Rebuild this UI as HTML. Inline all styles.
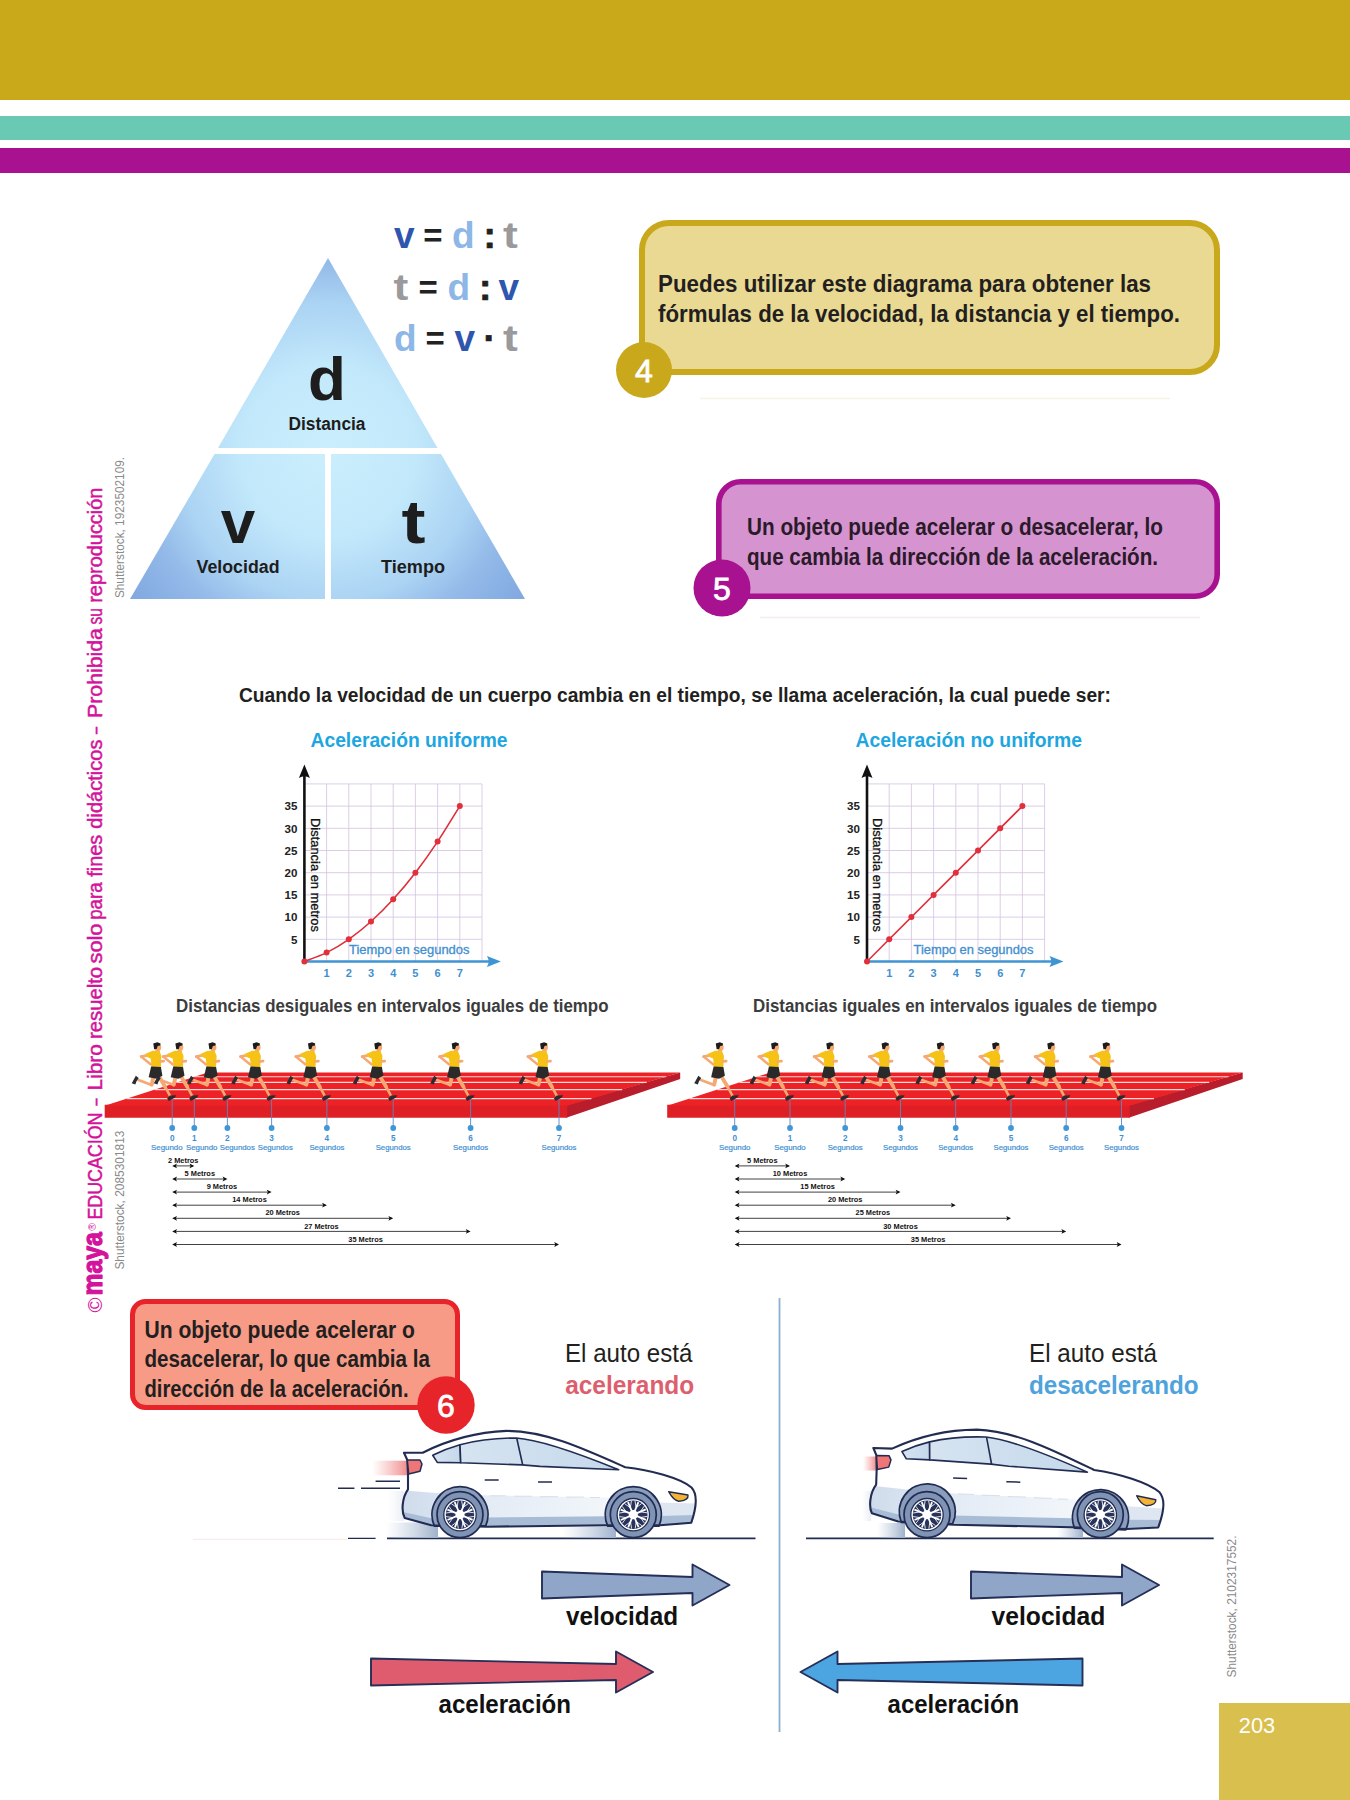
<!DOCTYPE html>
<html lang="es">
<head>
<meta charset="utf-8">
<title>Aceleración - página 203</title>
<style>
html,body{margin:0;padding:0;background:#fff;}
body{width:1350px;height:1800px;overflow:hidden;font-family:"Liberation Sans",sans-serif;}
svg{display:block;position:absolute;left:0;top:0;}
text{font-family:"Liberation Sans",sans-serif;}
.b{font-weight:bold;}
</style>
</head>
<body>
<svg width="1350" height="1800" viewBox="0 0 1350 1800">
<!-- 10_header.svg -->
<rect x="0" y="0" width="1350" height="100" fill="#C9A819"/>
<rect x="0" y="116" width="1350" height="24" fill="#69C9B3"/>
<rect x="0" y="148" width="1350" height="25" fill="#A8118F"/>

<!-- 20_triangle.svg -->
<defs>
<radialGradient id="triG" gradientUnits="userSpaceOnUse" cx="328" cy="452" r="250">
<stop offset="0" stop-color="#CAEEFC"/>
<stop offset="0.35" stop-color="#C2E8FB"/>
<stop offset="0.6" stop-color="#ABD3F3"/>
<stop offset="0.77" stop-color="#92B9E8"/>
<stop offset="1" stop-color="#80A7DF"/>
</radialGradient>
</defs>
<polygon points="328,258 437.5,448 218,448" fill="url(#triG)"/>
<polygon points="214.5,454 325,454 325,599 130,599" fill="url(#triG)"/>
<polygon points="331,454 441,454 525,599 331,599" fill="url(#triG)"/>
<text class="b" x="327" y="400" font-size="62" text-anchor="middle" fill="#1d1d1d">d</text>
<text class="b" x="327" y="429.6" font-size="18" text-anchor="middle" fill="#1d1d1d" textLength="77" lengthAdjust="spacingAndGlyphs">Distancia</text>
<text class="b" x="238" y="543" font-size="62" text-anchor="middle" fill="#1d1d1d">v</text>
<text class="b" x="238" y="573.2" font-size="18" text-anchor="middle" fill="#1d1d1d" textLength="83" lengthAdjust="spacingAndGlyphs">Velocidad</text>
<text class="b" x="401.5" y="543" font-size="62" fill="#1d1d1d" textLength="24" lengthAdjust="spacingAndGlyphs">t</text>
<text class="b" x="413" y="573.2" font-size="18" text-anchor="middle" fill="#1d1d1d" textLength="64" lengthAdjust="spacingAndGlyphs">Tiempo</text>
<g class="b" font-size="37">
<text x="394" y="247.5" fill="#2F56AE">v</text>
<text x="423.2" y="246.6" font-size="33" fill="#222">=</text>
<text x="452" y="247.5" fill="#8CB7E6">d</text>
<text x="483.5" y="247.5" fill="#222" stroke="#222" stroke-width="0.7" stroke-linejoin="round">:</text>
<text x="503" y="247.5" fill="#9A9A9C" textLength="14.8" lengthAdjust="spacingAndGlyphs">t</text>
<text x="393.5" y="300" fill="#9A9A9C" textLength="14.8" lengthAdjust="spacingAndGlyphs">t</text>
<text x="418.5" y="299.1" font-size="33" fill="#222">=</text>
<text x="447.5" y="300" fill="#8CB7E6">d</text>
<text x="479" y="300" fill="#222" stroke="#222" stroke-width="0.7" stroke-linejoin="round">:</text>
<text x="498.5" y="300" fill="#2F56AE">v</text>
<text x="394" y="351" fill="#8CB7E6">d</text>
<text x="425.6" y="350.1" font-size="33" fill="#222">=</text>
<text x="454.5" y="351" fill="#2F56AE">v</text>
<text x="483.5" y="351" fill="#222" stroke="#222" stroke-width="0.7" stroke-linejoin="round">·</text>
<text x="503" y="351" fill="#9A9A9C" textLength="14.8" lengthAdjust="spacingAndGlyphs">t</text>
</g>

<!-- 30_callouts.svg -->
<path d="M700,398.5H1170" stroke="#F6F2E4" stroke-width="1.6"/>
<rect x="642" y="223" width="575" height="149" rx="27" ry="27" fill="#EAD993" stroke="#C9A81C" stroke-width="6"/>
<circle cx="644" cy="370" r="28" fill="#C9A81C"/>
<text x="644" y="381.5" font-size="32" text-anchor="middle" fill="#fff" stroke="#fff" stroke-width="0.8">4</text>
<text class="b" x="658" y="292" font-size="24" fill="#231F20" textLength="493" lengthAdjust="spacingAndGlyphs">Puedes utilizar este diagrama para obtener las</text>
<text class="b" x="658" y="322" font-size="24" fill="#231F20" textLength="522" lengthAdjust="spacingAndGlyphs">fórmulas de la velocidad, la distancia y el tiempo.</text>
<path d="M760,617.5H1200" stroke="#F6EAF4" stroke-width="1.6"/>
<rect x="718.8" y="481.8" width="498.4" height="114.4" rx="22" ry="22" fill="#D594CF" stroke="#A8118F" stroke-width="5.6"/>
<circle cx="722" cy="588" r="28.5" fill="#A8118F"/>
<text x="722" y="599.5" font-size="32" text-anchor="middle" fill="#fff" stroke="#fff" stroke-width="0.8">5</text>
<text class="b" x="747" y="534.7" font-size="24.5" fill="#2A1A2A" textLength="416" lengthAdjust="spacingAndGlyphs">Un objeto puede acelerar o desacelerar, lo</text>
<text class="b" x="747" y="564.5" font-size="24.5" fill="#2A1A2A" textLength="411" lengthAdjust="spacingAndGlyphs">que cambia la dirección de la aceleración.</text>

<!-- 40_charts.svg -->
<text class="b" x="239" y="702" font-size="20" fill="#231F20" textLength="872" lengthAdjust="spacingAndGlyphs">Cuando la velocidad de un cuerpo cambia en el tiempo, se llama aceleración, la cual puede ser:</text>
<text class="b" x="310.5" y="747" font-size="20" fill="#1DA6DF" textLength="197" lengthAdjust="spacingAndGlyphs">Aceleración uniforme</text>
<text class="b" x="855.5" y="747" font-size="20" fill="#1DA6DF" textLength="226.5" lengthAdjust="spacingAndGlyphs">Aceleración no uniforme</text>
<text class="b" x="176" y="1011.8" font-size="17.5" fill="#3C3C3C" textLength="432.5" lengthAdjust="spacingAndGlyphs">Distancias desiguales en intervalos iguales de tiempo</text>
<text class="b" x="753" y="1011.8" font-size="17.5" fill="#3C3C3C" textLength="404" lengthAdjust="spacingAndGlyphs">Distancias iguales en intervalos iguales de tiempo</text>
<g>
<path d="M326.6,783.9V961.5M304.4,939.3H482.0M348.8,783.9V961.5M304.4,917.1H482.0M371.0,783.9V961.5M304.4,894.9H482.0M393.2,783.9V961.5M304.4,872.7H482.0M415.4,783.9V961.5M304.4,850.5H482.0M437.6,783.9V961.5M304.4,828.3H482.0M459.8,783.9V961.5M304.4,806.1H482.0M482.0,783.9V961.5M304.4,783.9H482.0" fill="none" stroke="#D6C4E3" stroke-width="0.85"/>
<path d="M304.4,961.5V772" stroke="#111" stroke-width="2.6" fill="none"/>
<path d="M304.4,764.5l-5.5,13.5q5.5,-3.5 11,0z" fill="#111"/>
<path d="M304.4,961.5H492.4" stroke="#3F94D3" stroke-width="2.4" fill="none"/>
<path d="M500.9,961.5l-14,-5.5q3.5,5.5 0,11z" fill="#3F94D3"/>
<text class="b" x="297.4" y="943.5" font-size="11.6" text-anchor="end" fill="#222">5</text>
<text class="b" x="297.4" y="921.3" font-size="11.6" text-anchor="end" fill="#222">10</text>
<text class="b" x="297.4" y="899.1" font-size="11.6" text-anchor="end" fill="#222">15</text>
<text class="b" x="297.4" y="876.9" font-size="11.6" text-anchor="end" fill="#222">20</text>
<text class="b" x="297.4" y="854.7" font-size="11.6" text-anchor="end" fill="#222">25</text>
<text class="b" x="297.4" y="832.5" font-size="11.6" text-anchor="end" fill="#222">30</text>
<text class="b" x="297.4" y="810.3" font-size="11.6" text-anchor="end" fill="#222">35</text>
<text class="b" x="326.6" y="976.7" font-size="11" text-anchor="middle" fill="#3F8FD0">1</text>
<text class="b" x="348.8" y="976.7" font-size="11" text-anchor="middle" fill="#3F8FD0">2</text>
<text class="b" x="371.0" y="976.7" font-size="11" text-anchor="middle" fill="#3F8FD0">3</text>
<text class="b" x="393.2" y="976.7" font-size="11" text-anchor="middle" fill="#3F8FD0">4</text>
<text class="b" x="415.4" y="976.7" font-size="11" text-anchor="middle" fill="#3F8FD0">5</text>
<text class="b" x="437.6" y="976.7" font-size="11" text-anchor="middle" fill="#3F8FD0">6</text>
<text class="b" x="459.8" y="976.7" font-size="11" text-anchor="middle" fill="#3F8FD0">7</text>
<text x="349" y="953.5" font-size="12.5" fill="#3F8FD0" textLength="120.5" lengthAdjust="spacingAndGlyphs" stroke="#3F8FD0" stroke-width="0.3">Tiempo en segundos</text>
<text transform="translate(310.7,818) rotate(90)" x="0" y="0" font-size="12.5" fill="#111" textLength="114" lengthAdjust="spacingAndGlyphs" stroke="#111" stroke-width="0.3">Distancia en metros</text>
<path d="M304.4,961.5C308.1,960.0 319.2,956.3 326.6,952.6C334.0,948.9 341.4,944.5 348.8,939.3C356.2,934.1 363.6,928.2 371.0,921.5C378.4,914.9 385.8,907.5 393.2,899.3C400.6,891.2 408.0,882.3 415.4,872.7C422.8,863.1 430.2,852.7 437.6,841.6C445.0,830.5 456.1,812.0 459.8,806.1" fill="none" stroke="#DE2F3A" stroke-width="1.6"/>
<circle cx="304.4" cy="961.5" r="3" fill="#E0303B"/>
<circle cx="326.6" cy="952.6" r="3" fill="#E0303B"/>
<circle cx="348.8" cy="939.3" r="3" fill="#E0303B"/>
<circle cx="371.0" cy="921.5" r="3" fill="#E0303B"/>
<circle cx="393.2" cy="899.3" r="3" fill="#E0303B"/>
<circle cx="415.4" cy="872.7" r="3" fill="#E0303B"/>
<circle cx="437.6" cy="841.6" r="3" fill="#E0303B"/>
<circle cx="459.8" cy="806.1" r="3" fill="#E0303B"/>
</g>
<g>
<path d="M889.2,783.9V961.5M867.0,939.3H1044.6M911.4,783.9V961.5M867.0,917.1H1044.6M933.6,783.9V961.5M867.0,894.9H1044.6M955.8,783.9V961.5M867.0,872.7H1044.6M978.0,783.9V961.5M867.0,850.5H1044.6M1000.2,783.9V961.5M867.0,828.3H1044.6M1022.4,783.9V961.5M867.0,806.1H1044.6M1044.6,783.9V961.5M867.0,783.9H1044.6" fill="none" stroke="#D6C4E3" stroke-width="0.85"/>
<path d="M867.0,961.5V772" stroke="#111" stroke-width="2.6" fill="none"/>
<path d="M867.0,764.5l-5.5,13.5q5.5,-3.5 11,0z" fill="#111"/>
<path d="M867.0,961.5H1055.0" stroke="#3F94D3" stroke-width="2.4" fill="none"/>
<path d="M1063.5,961.5l-14,-5.5q3.5,5.5 0,11z" fill="#3F94D3"/>
<text class="b" x="860.0" y="943.5" font-size="11.6" text-anchor="end" fill="#222">5</text>
<text class="b" x="860.0" y="921.3" font-size="11.6" text-anchor="end" fill="#222">10</text>
<text class="b" x="860.0" y="899.1" font-size="11.6" text-anchor="end" fill="#222">15</text>
<text class="b" x="860.0" y="876.9" font-size="11.6" text-anchor="end" fill="#222">20</text>
<text class="b" x="860.0" y="854.7" font-size="11.6" text-anchor="end" fill="#222">25</text>
<text class="b" x="860.0" y="832.5" font-size="11.6" text-anchor="end" fill="#222">30</text>
<text class="b" x="860.0" y="810.3" font-size="11.6" text-anchor="end" fill="#222">35</text>
<text class="b" x="889.2" y="976.7" font-size="11" text-anchor="middle" fill="#3F8FD0">1</text>
<text class="b" x="911.4" y="976.7" font-size="11" text-anchor="middle" fill="#3F8FD0">2</text>
<text class="b" x="933.6" y="976.7" font-size="11" text-anchor="middle" fill="#3F8FD0">3</text>
<text class="b" x="955.8" y="976.7" font-size="11" text-anchor="middle" fill="#3F8FD0">4</text>
<text class="b" x="978.0" y="976.7" font-size="11" text-anchor="middle" fill="#3F8FD0">5</text>
<text class="b" x="1000.2" y="976.7" font-size="11" text-anchor="middle" fill="#3F8FD0">6</text>
<text class="b" x="1022.4" y="976.7" font-size="11" text-anchor="middle" fill="#3F8FD0">7</text>
<text x="913.5" y="953.5" font-size="12.5" fill="#3F8FD0" textLength="120.0" lengthAdjust="spacingAndGlyphs" stroke="#3F8FD0" stroke-width="0.3">Tiempo en segundos</text>
<text transform="translate(873.3,818) rotate(90)" x="0" y="0" font-size="12.5" fill="#111" textLength="114" lengthAdjust="spacingAndGlyphs" stroke="#111" stroke-width="0.3">Distancia en metros</text>
<path d="M867.0,961.5L1022.4,806.1" fill="none" stroke="#DE2F3A" stroke-width="1.6"/>
<circle cx="867.0" cy="961.5" r="3" fill="#E0303B"/>
<circle cx="889.2" cy="939.3" r="3" fill="#E0303B"/>
<circle cx="911.4" cy="917.1" r="3" fill="#E0303B"/>
<circle cx="933.6" cy="894.9" r="3" fill="#E0303B"/>
<circle cx="955.8" cy="872.7" r="3" fill="#E0303B"/>
<circle cx="978.0" cy="850.5" r="3" fill="#E0303B"/>
<circle cx="1000.2" cy="828.3" r="3" fill="#E0303B"/>
<circle cx="1022.4" cy="806.1" r="3" fill="#E0303B"/>
</g>

<!-- 50_tracks.svg -->
<symbol id="runner" overflow="visible">
<path d="M-24.89,-44.89 L-31.02,-43.56" fill="none" stroke="#F6A873" stroke-width="2.9" stroke-linecap="round"/>
<path d="M-31.02,-43.56 L-21.33,-35.73" fill="none" stroke="#F6A873" stroke-width="2.5" stroke-linecap="round"/>
<path d="M-18.93,-22.67 L-20.53,-15.56" fill="none" stroke="#F6A873" stroke-width="3.9" stroke-linecap="round"/>
<path d="M-20.53,-15.29 L-33.78,-20.27" fill="none" stroke="#F6A873" stroke-width="2.7" stroke-linecap="round"/>
<polygon points="-40.44,-16.89 -36.36,-24.36 -33.51,-22.22 -35.64,-18.84 -36.89,-15.64" fill="#2B2B33"/>
<path d="M-12.89,-23.11 L-7.11,-13.51" fill="none" stroke="#F6A873" stroke-width="3.8" stroke-linecap="round"/>
<path d="M-7.11,-13.51 L-1.78,-3.56" fill="none" stroke="#F6A873" stroke-width="2.6" stroke-linecap="round"/>
<polygon points="-5.07,-1.60 -2.22,-4.80 4.18,-4.98 2.58,-2.49 -3.47,0.89" fill="#2B2B33"/>
<polygon points="-16.62,-51.11 -12.89,-51.11 -12.53,-48.00 -16.80,-48.00" fill="#F6A873"/>
<polygon points="-27.11,-46.22 -19.56,-49.42 -12.71,-49.24 -10.76,-44.27 -11.38,-32.89 -20.53,-33.24 -21.60,-41.60 -24.62,-43.02" fill="#F5C215"/>
<polygon points="-21.07,-33.60 -11.29,-33.24 -9.78,-24.53 -15.73,-21.33 -23.56,-22.93" fill="#2A2A2A"/>
<path d="M-12.00,-38.76 L-8.44,-39.11" fill="none" stroke="#F6A873" stroke-width="2.6" stroke-linecap="round"/>
<ellipse cx="-14.04" cy="-52.89" rx="3.02" ry="3.73" fill="#F6A873"/>
<polygon points="-18.93,-56.71 -14.84,-57.96 -11.64,-56.71 -12.00,-54.58 -14.49,-54.22 -15.56,-51.20 -18.04,-51.02" fill="#1C1C1C"/>
</symbol>
<polygon points="566.2,1105.2 680.2,1072.6 680.2,1079.1 566.2,1117.8" fill="#B91C2B"/>
<polygon points="104.7,1104.7 567.2,1104.7 567.2,1117.8 104.7,1117.8" fill="#DF1F26"/>
<polygon points="207.7,1072.6 680.2,1072.6 567.2,1105.7 104.7,1105.7" fill="#EC2227"/>
<path d="M194.6,1076.8H665.9" stroke="#FBD9D5" stroke-width="1.1"/>
<path d="M177.2,1082.4H646.7" stroke="#FBD9D5" stroke-width="1.1"/>
<path d="M154.8,1089.6H622.2" stroke="#FBD9D5" stroke-width="1.1"/>
<path d="M126.8,1098.6H591.4" stroke="#FBD9D5" stroke-width="1.1"/>
<path d="M172.2,1100V1128" stroke="#5E86C0" stroke-width="0.9"/>
<circle cx="172.2" cy="1128" r="2.9" fill="#3F97D8"/>
<path d="M194.3,1100V1128" stroke="#5E86C0" stroke-width="0.9"/>
<circle cx="194.3" cy="1128" r="2.9" fill="#3F97D8"/>
<path d="M227.4,1100V1128" stroke="#5E86C0" stroke-width="0.9"/>
<circle cx="227.4" cy="1128" r="2.9" fill="#3F97D8"/>
<path d="M271.6,1100V1128" stroke="#5E86C0" stroke-width="0.9"/>
<circle cx="271.6" cy="1128" r="2.9" fill="#3F97D8"/>
<path d="M326.9,1100V1128" stroke="#5E86C0" stroke-width="0.9"/>
<circle cx="326.9" cy="1128" r="2.9" fill="#3F97D8"/>
<path d="M393.2,1100V1128" stroke="#5E86C0" stroke-width="0.9"/>
<circle cx="393.2" cy="1128" r="2.9" fill="#3F97D8"/>
<path d="M470.6,1100V1128" stroke="#5E86C0" stroke-width="0.9"/>
<circle cx="470.6" cy="1128" r="2.9" fill="#3F97D8"/>
<path d="M559.0,1100V1128" stroke="#5E86C0" stroke-width="0.9"/>
<circle cx="559.0" cy="1128" r="2.9" fill="#3F97D8"/>
<use href="#runner" x="172.2" y="1100.2"/>
<use href="#runner" x="194.3" y="1100.2"/>
<use href="#runner" x="227.4" y="1100.2"/>
<use href="#runner" x="271.6" y="1100.2"/>
<use href="#runner" x="326.9" y="1100.2"/>
<use href="#runner" x="393.2" y="1100.2"/>
<use href="#runner" x="470.6" y="1100.2"/>
<use href="#runner" x="559.0" y="1100.2"/>
<text class="b" x="172.2" y="1141.2" font-size="8.2" text-anchor="middle" fill="#3F8FD0">0</text>
<text x="151.1" y="1149.8" font-size="7.6" fill="#3F8FD0" textLength="31.5" lengthAdjust="spacingAndGlyphs" stroke="#3F8FD0" stroke-width="0.2">Segundo</text>
<text class="b" x="194.3" y="1141.2" font-size="8.2" text-anchor="middle" fill="#3F8FD0">1</text>
<text x="186.0" y="1149.8" font-size="7.6" fill="#3F8FD0" textLength="31.5" lengthAdjust="spacingAndGlyphs" stroke="#3F8FD0" stroke-width="0.2">Segundo</text>
<text class="b" x="227.4" y="1141.2" font-size="8.2" text-anchor="middle" fill="#3F8FD0">2</text>
<text x="219.8" y="1149.8" font-size="7.6" fill="#3F8FD0" textLength="35" lengthAdjust="spacingAndGlyphs" stroke="#3F8FD0" stroke-width="0.2">Segundos</text>
<text class="b" x="271.6" y="1141.2" font-size="8.2" text-anchor="middle" fill="#3F8FD0">3</text>
<text x="257.8" y="1149.8" font-size="7.6" fill="#3F8FD0" textLength="35" lengthAdjust="spacingAndGlyphs" stroke="#3F8FD0" stroke-width="0.2">Segundos</text>
<text class="b" x="326.9" y="1141.2" font-size="8.2" text-anchor="middle" fill="#3F8FD0">4</text>
<text x="309.4" y="1149.8" font-size="7.6" fill="#3F8FD0" textLength="35" lengthAdjust="spacingAndGlyphs" stroke="#3F8FD0" stroke-width="0.2">Segundos</text>
<text class="b" x="393.2" y="1141.2" font-size="8.2" text-anchor="middle" fill="#3F8FD0">5</text>
<text x="375.7" y="1149.8" font-size="7.6" fill="#3F8FD0" textLength="35" lengthAdjust="spacingAndGlyphs" stroke="#3F8FD0" stroke-width="0.2">Segundos</text>
<text class="b" x="470.6" y="1141.2" font-size="8.2" text-anchor="middle" fill="#3F8FD0">6</text>
<text x="453.1" y="1149.8" font-size="7.6" fill="#3F8FD0" textLength="35" lengthAdjust="spacingAndGlyphs" stroke="#3F8FD0" stroke-width="0.2">Segundos</text>
<text class="b" x="559.0" y="1141.2" font-size="8.2" text-anchor="middle" fill="#3F8FD0">7</text>
<text x="541.5" y="1149.8" font-size="7.6" fill="#3F8FD0" textLength="35" lengthAdjust="spacingAndGlyphs" stroke="#3F8FD0" stroke-width="0.2">Segundos</text>
<path d="M173.7,1165.9H192.8" stroke="#111" stroke-width="0.8"/>
<path d="M172.2,1165.9l4.8,-2.4l-1.1,2.4l1.1,2.4zM194.3,1165.9l-4.8,-2.4l1.1,2.4l-1.1,2.4z" fill="#111"/>
<text class="b" x="183.2" y="1163.0" font-size="7.4" text-anchor="middle" fill="#111">2 Metros</text>
<path d="M173.7,1179.0H225.9" stroke="#111" stroke-width="0.8"/>
<path d="M172.2,1179.0l4.8,-2.4l-1.1,2.4l1.1,2.4zM227.4,1179.0l-4.8,-2.4l1.1,2.4l-1.1,2.4z" fill="#111"/>
<text class="b" x="199.8" y="1176.1" font-size="7.4" text-anchor="middle" fill="#111">5 Metros</text>
<path d="M173.7,1192.1H270.1" stroke="#111" stroke-width="0.8"/>
<path d="M172.2,1192.1l4.8,-2.4l-1.1,2.4l1.1,2.4zM271.6,1192.1l-4.8,-2.4l1.1,2.4l-1.1,2.4z" fill="#111"/>
<text class="b" x="221.9" y="1189.2" font-size="7.4" text-anchor="middle" fill="#111">9 Metros</text>
<path d="M173.7,1205.2H325.4" stroke="#111" stroke-width="0.8"/>
<path d="M172.2,1205.2l4.8,-2.4l-1.1,2.4l1.1,2.4zM326.9,1205.2l-4.8,-2.4l1.1,2.4l-1.1,2.4z" fill="#111"/>
<text class="b" x="249.5" y="1202.3" font-size="7.4" text-anchor="middle" fill="#111">14 Metros</text>
<path d="M173.7,1218.3H391.7" stroke="#111" stroke-width="0.8"/>
<path d="M172.2,1218.3l4.8,-2.4l-1.1,2.4l1.1,2.4zM393.2,1218.3l-4.8,-2.4l1.1,2.4l-1.1,2.4z" fill="#111"/>
<text class="b" x="282.7" y="1215.4" font-size="7.4" text-anchor="middle" fill="#111">20 Metros</text>
<path d="M173.7,1231.4H469.1" stroke="#111" stroke-width="0.8"/>
<path d="M172.2,1231.4l4.8,-2.4l-1.1,2.4l1.1,2.4zM470.6,1231.4l-4.8,-2.4l1.1,2.4l-1.1,2.4z" fill="#111"/>
<text class="b" x="321.4" y="1228.5" font-size="7.4" text-anchor="middle" fill="#111">27 Metros</text>
<path d="M173.7,1244.5H557.5" stroke="#111" stroke-width="0.8"/>
<path d="M172.2,1244.5l4.8,-2.4l-1.1,2.4l1.1,2.4zM559.0,1244.5l-4.8,-2.4l1.1,2.4l-1.1,2.4z" fill="#111"/>
<text class="b" x="365.6" y="1241.6" font-size="7.4" text-anchor="middle" fill="#111">35 Metros</text>
<polygon points="1128.7,1105.2 1242.7,1072.6 1242.7,1079.1 1128.7,1117.8" fill="#B91C2B"/>
<polygon points="667.2,1104.7 1129.7,1104.7 1129.7,1117.8 667.2,1117.8" fill="#DF1F26"/>
<polygon points="770.2,1072.6 1242.7,1072.6 1129.7,1105.7 667.2,1105.7" fill="#EC2227"/>
<path d="M757.1,1076.8H1228.4" stroke="#FBD9D5" stroke-width="1.1"/>
<path d="M739.7,1082.4H1209.2" stroke="#FBD9D5" stroke-width="1.1"/>
<path d="M717.3,1089.6H1184.7" stroke="#FBD9D5" stroke-width="1.1"/>
<path d="M689.3,1098.6H1153.9" stroke="#FBD9D5" stroke-width="1.1"/>
<path d="M734.7,1100V1128" stroke="#5E86C0" stroke-width="0.9"/>
<circle cx="734.7" cy="1128" r="2.9" fill="#3F97D8"/>
<path d="M790.0,1100V1128" stroke="#5E86C0" stroke-width="0.9"/>
<circle cx="790.0" cy="1128" r="2.9" fill="#3F97D8"/>
<path d="M845.2,1100V1128" stroke="#5E86C0" stroke-width="0.9"/>
<circle cx="845.2" cy="1128" r="2.9" fill="#3F97D8"/>
<path d="M900.5,1100V1128" stroke="#5E86C0" stroke-width="0.9"/>
<circle cx="900.5" cy="1128" r="2.9" fill="#3F97D8"/>
<path d="M955.7,1100V1128" stroke="#5E86C0" stroke-width="0.9"/>
<circle cx="955.7" cy="1128" r="2.9" fill="#3F97D8"/>
<path d="M1011.0,1100V1128" stroke="#5E86C0" stroke-width="0.9"/>
<circle cx="1011.0" cy="1128" r="2.9" fill="#3F97D8"/>
<path d="M1066.2,1100V1128" stroke="#5E86C0" stroke-width="0.9"/>
<circle cx="1066.2" cy="1128" r="2.9" fill="#3F97D8"/>
<path d="M1121.5,1100V1128" stroke="#5E86C0" stroke-width="0.9"/>
<circle cx="1121.5" cy="1128" r="2.9" fill="#3F97D8"/>
<use href="#runner" x="734.7" y="1100.2"/>
<use href="#runner" x="790.0" y="1100.2"/>
<use href="#runner" x="845.2" y="1100.2"/>
<use href="#runner" x="900.5" y="1100.2"/>
<use href="#runner" x="955.7" y="1100.2"/>
<use href="#runner" x="1011.0" y="1100.2"/>
<use href="#runner" x="1066.2" y="1100.2"/>
<use href="#runner" x="1121.5" y="1100.2"/>
<text class="b" x="734.7" y="1141.2" font-size="8.2" text-anchor="middle" fill="#3F8FD0">0</text>
<text x="719.0" y="1149.8" font-size="7.6" fill="#3F8FD0" textLength="31.5" lengthAdjust="spacingAndGlyphs" stroke="#3F8FD0" stroke-width="0.2">Segundo</text>
<text class="b" x="790.0" y="1141.2" font-size="8.2" text-anchor="middle" fill="#3F8FD0">1</text>
<text x="774.2" y="1149.8" font-size="7.6" fill="#3F8FD0" textLength="31.5" lengthAdjust="spacingAndGlyphs" stroke="#3F8FD0" stroke-width="0.2">Segundo</text>
<text class="b" x="845.2" y="1141.2" font-size="8.2" text-anchor="middle" fill="#3F8FD0">2</text>
<text x="827.7" y="1149.8" font-size="7.6" fill="#3F8FD0" textLength="35" lengthAdjust="spacingAndGlyphs" stroke="#3F8FD0" stroke-width="0.2">Segundos</text>
<text class="b" x="900.5" y="1141.2" font-size="8.2" text-anchor="middle" fill="#3F8FD0">3</text>
<text x="883.0" y="1149.8" font-size="7.6" fill="#3F8FD0" textLength="35" lengthAdjust="spacingAndGlyphs" stroke="#3F8FD0" stroke-width="0.2">Segundos</text>
<text class="b" x="955.7" y="1141.2" font-size="8.2" text-anchor="middle" fill="#3F8FD0">4</text>
<text x="938.2" y="1149.8" font-size="7.6" fill="#3F8FD0" textLength="35" lengthAdjust="spacingAndGlyphs" stroke="#3F8FD0" stroke-width="0.2">Segundos</text>
<text class="b" x="1011.0" y="1141.2" font-size="8.2" text-anchor="middle" fill="#3F8FD0">5</text>
<text x="993.5" y="1149.8" font-size="7.6" fill="#3F8FD0" textLength="35" lengthAdjust="spacingAndGlyphs" stroke="#3F8FD0" stroke-width="0.2">Segundos</text>
<text class="b" x="1066.2" y="1141.2" font-size="8.2" text-anchor="middle" fill="#3F8FD0">6</text>
<text x="1048.7" y="1149.8" font-size="7.6" fill="#3F8FD0" textLength="35" lengthAdjust="spacingAndGlyphs" stroke="#3F8FD0" stroke-width="0.2">Segundos</text>
<text class="b" x="1121.5" y="1141.2" font-size="8.2" text-anchor="middle" fill="#3F8FD0">7</text>
<text x="1104.0" y="1149.8" font-size="7.6" fill="#3F8FD0" textLength="35" lengthAdjust="spacingAndGlyphs" stroke="#3F8FD0" stroke-width="0.2">Segundos</text>
<path d="M736.2,1165.9H788.5" stroke="#111" stroke-width="0.8"/>
<path d="M734.7,1165.9l4.8,-2.4l-1.1,2.4l1.1,2.4zM790.0,1165.9l-4.8,-2.4l1.1,2.4l-1.1,2.4z" fill="#111"/>
<text class="b" x="762.3" y="1163.0" font-size="7.4" text-anchor="middle" fill="#111">5 Metros</text>
<path d="M736.2,1179.0H843.7" stroke="#111" stroke-width="0.8"/>
<path d="M734.7,1179.0l4.8,-2.4l-1.1,2.4l1.1,2.4zM845.2,1179.0l-4.8,-2.4l1.1,2.4l-1.1,2.4z" fill="#111"/>
<text class="b" x="790.0" y="1176.1" font-size="7.4" text-anchor="middle" fill="#111">10 Metros</text>
<path d="M736.2,1192.1H899.0" stroke="#111" stroke-width="0.8"/>
<path d="M734.7,1192.1l4.8,-2.4l-1.1,2.4l1.1,2.4zM900.5,1192.1l-4.8,-2.4l1.1,2.4l-1.1,2.4z" fill="#111"/>
<text class="b" x="817.6" y="1189.2" font-size="7.4" text-anchor="middle" fill="#111">15 Metros</text>
<path d="M736.2,1205.2H954.2" stroke="#111" stroke-width="0.8"/>
<path d="M734.7,1205.2l4.8,-2.4l-1.1,2.4l1.1,2.4zM955.7,1205.2l-4.8,-2.4l1.1,2.4l-1.1,2.4z" fill="#111"/>
<text class="b" x="845.2" y="1202.3" font-size="7.4" text-anchor="middle" fill="#111">20 Metros</text>
<path d="M736.2,1218.3H1009.5" stroke="#111" stroke-width="0.8"/>
<path d="M734.7,1218.3l4.8,-2.4l-1.1,2.4l1.1,2.4zM1011.0,1218.3l-4.8,-2.4l1.1,2.4l-1.1,2.4z" fill="#111"/>
<text class="b" x="872.8" y="1215.4" font-size="7.4" text-anchor="middle" fill="#111">25 Metros</text>
<path d="M736.2,1231.4H1064.7" stroke="#111" stroke-width="0.8"/>
<path d="M734.7,1231.4l4.8,-2.4l-1.1,2.4l1.1,2.4zM1066.2,1231.4l-4.8,-2.4l1.1,2.4l-1.1,2.4z" fill="#111"/>
<text class="b" x="900.5" y="1228.5" font-size="7.4" text-anchor="middle" fill="#111">30 Metros</text>
<path d="M736.2,1244.5H1120.0" stroke="#111" stroke-width="0.8"/>
<path d="M734.7,1244.5l4.8,-2.4l-1.1,2.4l1.1,2.4zM1121.5,1244.5l-4.8,-2.4l1.1,2.4l-1.1,2.4z" fill="#111"/>
<text class="b" x="928.1" y="1241.6" font-size="7.4" text-anchor="middle" fill="#111">35 Metros</text>

<!-- 60_cars.svg -->
<defs>
<linearGradient id="redBlur" x1="0" x2="1" y1="0" y2="0"><stop offset="0" stop-color="#F6A9A6" stop-opacity="0"/><stop offset="1" stop-color="#F08F8F" stop-opacity="1"/></linearGradient>
<linearGradient id="greyBlur" x1="0" x2="1" y1="0" y2="0"><stop offset="0" stop-color="#B9C7DC" stop-opacity="0"/><stop offset="1" stop-color="#9FB1CC" stop-opacity="1"/></linearGradient>
<linearGradient id="lowBody" gradientUnits="userSpaceOnUse" x1="400" x2="640" y1="0" y2="0"><stop offset="0" stop-color="#CFDBEB"/><stop offset="0.35" stop-color="#E3EBF5"/><stop offset="1" stop-color="#F6F9FC"/></linearGradient>
<linearGradient id="glass" x1="0" x2="1" y1="0" y2="0"><stop offset="0" stop-color="#D6E4F1"/><stop offset="1" stop-color="#C5D8EB"/></linearGradient>
</defs>
<rect x="132.5" y="1301.5" width="325" height="106" rx="13" ry="13" fill="#F79B86" stroke="#E8242B" stroke-width="5"/>
<text class="b" x="144.5" y="1338" font-size="24.5" fill="#231F20" textLength="270.5" lengthAdjust="spacingAndGlyphs">Un objeto puede acelerar o</text>
<text class="b" x="144.5" y="1367.3" font-size="24.5" fill="#231F20" textLength="285.5" lengthAdjust="spacingAndGlyphs">desacelerar, lo que cambia la</text>
<text class="b" x="144.5" y="1396.6" font-size="24.5" fill="#231F20" textLength="264" lengthAdjust="spacingAndGlyphs">dirección de la aceleración.</text>
<path d="M193,1539.3H347" stroke="#FCEBEB" stroke-width="1.2"/>
<path d="M387,1538.4H755.5M806,1538.4H1213.7" stroke="#222C52" stroke-width="1.7" fill="none"/>
<g transform="translate(0,0)">
<rect x="372" y="1460.7" width="35" height="14.6" fill="url(#redBlur)"/>
<rect x="388" y="1491" width="16" height="30" fill="url(#greyBlur)" opacity="0.22"/>
<rect x="386" y="1522.5" width="52" height="15.5" fill="url(#greyBlur)"/>
<rect x="562" y="1526.5" width="54" height="11.5" fill="url(#greyBlur)"/>
<path d="M375.6,1481.3H400M338,1488.3H354.4M361,1488.3H400M348,1538.4H375.6" stroke="#222C52" stroke-width="1.4" fill="none"/>
<g transform="rotate(0 546.7 1522)">
<clipPath id="cb1"><path d="M404,1452.7L422.7,1452.7C440,1444 468,1432.5 506.7,1430.9C545,1431 582,1448 625.3,1467.3C650,1470 680,1478 691.5,1487.5C697.5,1494 697,1506 691.3,1522.7L660,1525.3L605.3,1525.3L486.7,1526.7L431.3,1525.3L404.7,1518C401.3,1512 401.8,1498 408,1489.3L408,1474L407.3,1460Z"/></clipPath>
<path d="M404,1452.7L422.7,1452.7C440,1444 468,1432.5 506.7,1430.9C545,1431 582,1448 625.3,1467.3C650,1470 680,1478 691.5,1487.5C697.5,1494 697,1506 691.3,1522.7L660,1525.3L605.3,1525.3L486.7,1526.7L431.3,1525.3L404.7,1518C401.3,1512 401.8,1498 408,1489.3L408,1474L407.3,1460Z" fill="#fff"/>
<g clip-path="url(#cb1)">
<path d="M398,1490L436,1493L490,1495.5L600,1497.5L640,1498L640,1530L398,1530Z" fill="url(#lowBody)"/>
<path d="M655,1502.5L700,1503.5L700,1530L655,1530Z" fill="#DDE6F1"/>
<path d="M398,1511L431.3,1518.2L486,1517.6L606,1516.2L660,1516L700,1515L700,1530L398,1530Z" fill="#A9BCD6"/>
</g>
<path d="M490,1495.8H506M514,1496.2H532M540,1496.7H558M566,1497.1H584M590,1497.5H600" stroke="#D3DCE9" stroke-width="0.9" fill="none"/>
<path d="M434.4,1526A28,28 0 1 1 485.6,1526Z" fill="#8A9DBD" stroke="#222C52" stroke-width="1.8"/>
<path d="M607.7,1526A28,28 0 1 1 658.9,1526Z" fill="#8A9DBD" stroke="#222C52" stroke-width="1.8"/>
<path d="M404,1452.7L422.7,1452.7C440,1444 468,1432.5 506.7,1430.9C545,1431 582,1448 625.3,1467.3C650,1470 680,1478 691.5,1487.5C697.5,1494 697,1506 691.3,1522.7L660,1525.3L605.3,1525.3L486.7,1526.7L431.3,1525.3L404.7,1518C401.3,1512 401.8,1498 408,1489.3L408,1474L407.3,1460Z" fill="none" stroke="#222C52" stroke-width="2.1" stroke-linejoin="round"/>
<path d="M432.7,1455.3C441,1451 450,1447.5 460,1444.7L460.7,1462.7L437.3,1462.4Z" fill="url(#glass)" stroke="#222C52" stroke-width="1.6" stroke-linejoin="round"/>
<path d="M460,1444.7C478,1440 498,1438 516,1438C540,1439.5 580,1454 618.7,1469.7L540,1466.4L522,1464.9L460.7,1462.7Z" fill="url(#glass)" stroke="#222C52" stroke-width="1.6" stroke-linejoin="round"/>
<path d="M516.7,1438L522.7,1465" stroke="#222C52" stroke-width="1.6" fill="none"/>
<path d="M484.7,1480H498.7M538,1482H552" stroke="#222C52" stroke-width="1.5" fill="none"/>
<path d="M407.3,1460L420,1460L422,1464L420,1471.3L408.7,1474Z" fill="#EE7676" stroke="#222C52" stroke-width="1.5" stroke-linejoin="round"/>
<path d="M668.7,1491.7L688,1495C688.5,1498 686,1501 678.7,1501.3C675,1500.5 671.5,1497 668.7,1491.7Z" fill="#F5B335" stroke="#222C52" stroke-width="1.4" stroke-linejoin="round"/>
</g>
<circle cx="460" cy="1514.7" r="23" fill="#7F93B4" stroke="#222C52" stroke-width="1.7"/>
<circle cx="460" cy="1514.7" r="16.2" fill="#fff" stroke="#222C52" stroke-width="1.3"/>
<circle cx="460" cy="1514.7" r="14.2" fill="#28335B"/>
<path d="M467.0,1517.5L471.2,1523.1M467.0,1517.5L473.9,1516.4M462.9,1521.6L461.9,1528.6M462.9,1521.6L468.6,1525.7M457.2,1521.7L451.6,1525.9M457.2,1521.7L458.3,1528.6M453.1,1517.6L446.1,1516.6M453.1,1517.6L449.0,1523.3M453.0,1511.9L448.8,1506.3M453.0,1511.9L446.1,1513.0M457.1,1507.8L458.1,1500.8M457.1,1507.8L451.4,1503.7M462.8,1507.7L468.4,1503.5M462.8,1507.7L461.7,1500.8M466.9,1511.8L473.9,1512.8M466.9,1511.8L471.0,1506.1" stroke="#fff" stroke-width="0.85" fill="none"/>
<path d="M460.0,1514.7L472.6,1519.8M460.0,1514.7L465.3,1527.2M460.0,1514.7L454.9,1527.3M460.0,1514.7L447.5,1520.0M460.0,1514.7L447.4,1509.6M460.0,1514.7L454.7,1502.2M460.0,1514.7L465.1,1502.1M460.0,1514.7L472.5,1509.4" stroke="#fff" stroke-width="1.8" fill="none"/>
<circle cx="460" cy="1514.7" r="4.6" fill="#fff"/>
<circle cx="633.3" cy="1514.7" r="23" fill="#7F93B4" stroke="#222C52" stroke-width="1.7"/>
<circle cx="633.3" cy="1514.7" r="16.2" fill="#fff" stroke="#222C52" stroke-width="1.3"/>
<circle cx="633.3" cy="1514.7" r="14.2" fill="#28335B"/>
<path d="M640.3,1517.5L644.5,1523.1M640.3,1517.5L647.2,1516.4M636.2,1521.6L635.2,1528.6M636.2,1521.6L641.9,1525.7M630.5,1521.7L624.9,1525.9M630.5,1521.7L631.6,1528.6M626.4,1517.6L619.4,1516.6M626.4,1517.6L622.3,1523.3M626.3,1511.9L622.1,1506.3M626.3,1511.9L619.4,1513.0M630.4,1507.8L631.4,1500.8M630.4,1507.8L624.7,1503.7M636.1,1507.7L641.7,1503.5M636.1,1507.7L635.0,1500.8M640.2,1511.8L647.2,1512.8M640.2,1511.8L644.3,1506.1" stroke="#fff" stroke-width="0.85" fill="none"/>
<path d="M633.3,1514.7L645.9,1519.8M633.3,1514.7L638.6,1527.2M633.3,1514.7L628.2,1527.3M633.3,1514.7L620.8,1520.0M633.3,1514.7L620.7,1509.6M633.3,1514.7L628.0,1502.2M633.3,1514.7L638.4,1502.1M633.3,1514.7L645.8,1509.4" stroke="#fff" stroke-width="1.8" fill="none"/>
<circle cx="633.3" cy="1514.7" r="4.6" fill="#fff"/>
</g>
<g transform="translate(467,0)">
<rect x="396" y="1456.5" width="13" height="14" fill="url(#redBlur)"/>
<rect x="395" y="1491" width="9" height="30" fill="url(#greyBlur)" opacity="0.22"/>
<rect x="410" y="1523" width="28" height="15" fill="url(#greyBlur)"/>
<rect x="590" y="1527" width="26" height="11" fill="url(#greyBlur)"/>
<g transform="rotate(1.9 546.7 1522)">
<clipPath id="cb2"><path d="M404,1452.7L422.7,1452.7C440,1444 468,1432.5 506.7,1430.9C545,1431 582,1448 625.3,1467.3C650,1470 680,1478 691.5,1487.5C697.5,1494 697,1506 691.3,1522.7L660,1525.3L605.3,1525.3L486.7,1526.7L431.3,1525.3L404.7,1518C401.3,1512 401.8,1498 408,1489.3L408,1474L407.3,1460Z"/></clipPath>
<path d="M404,1452.7L422.7,1452.7C440,1444 468,1432.5 506.7,1430.9C545,1431 582,1448 625.3,1467.3C650,1470 680,1478 691.5,1487.5C697.5,1494 697,1506 691.3,1522.7L660,1525.3L605.3,1525.3L486.7,1526.7L431.3,1525.3L404.7,1518C401.3,1512 401.8,1498 408,1489.3L408,1474L407.3,1460Z" fill="#fff"/>
<g clip-path="url(#cb2)">
<path d="M398,1490L436,1493L490,1495.5L600,1497.5L640,1498L640,1530L398,1530Z" fill="url(#lowBody)"/>
<path d="M655,1502.5L700,1503.5L700,1530L655,1530Z" fill="#DDE6F1"/>
<path d="M398,1511L431.3,1518.2L486,1517.6L606,1516.2L660,1516L700,1515L700,1530L398,1530Z" fill="#A9BCD6"/>
</g>
<path d="M490,1495.8H506M514,1496.2H532M540,1496.7H558M566,1497.1H584M590,1497.5H600" stroke="#D3DCE9" stroke-width="0.9" fill="none"/>
<path d="M434.4,1526A28,28 0 1 1 485.6,1526Z" fill="#8A9DBD" stroke="#222C52" stroke-width="1.8"/>
<path d="M607.7,1526A28,28 0 1 1 658.9,1526Z" fill="#8A9DBD" stroke="#222C52" stroke-width="1.8"/>
<path d="M404,1452.7L422.7,1452.7C440,1444 468,1432.5 506.7,1430.9C545,1431 582,1448 625.3,1467.3C650,1470 680,1478 691.5,1487.5C697.5,1494 697,1506 691.3,1522.7L660,1525.3L605.3,1525.3L486.7,1526.7L431.3,1525.3L404.7,1518C401.3,1512 401.8,1498 408,1489.3L408,1474L407.3,1460Z" fill="none" stroke="#222C52" stroke-width="2.1" stroke-linejoin="round"/>
<path d="M432.7,1455.3C441,1451 450,1447.5 460,1444.7L460.7,1462.7L437.3,1462.4Z" fill="url(#glass)" stroke="#222C52" stroke-width="1.6" stroke-linejoin="round"/>
<path d="M460,1444.7C478,1440 498,1438 516,1438C540,1439.5 580,1454 618.7,1469.7L540,1466.4L522,1464.9L460.7,1462.7Z" fill="url(#glass)" stroke="#222C52" stroke-width="1.6" stroke-linejoin="round"/>
<path d="M516.7,1438L522.7,1465" stroke="#222C52" stroke-width="1.6" fill="none"/>
<path d="M484.7,1480H498.7M538,1482H552" stroke="#222C52" stroke-width="1.5" fill="none"/>
<path d="M407.3,1460L420,1460L422,1464L420,1471.3L408.7,1474Z" fill="#EE7676" stroke="#222C52" stroke-width="1.5" stroke-linejoin="round"/>
<path d="M668.7,1491.7L688,1495C688.5,1498 686,1501 678.7,1501.3C675,1500.5 671.5,1497 668.7,1491.7Z" fill="#F5B335" stroke="#222C52" stroke-width="1.4" stroke-linejoin="round"/>
</g>
<circle cx="460" cy="1514.7" r="23" fill="#7F93B4" stroke="#222C52" stroke-width="1.7"/>
<circle cx="460" cy="1514.7" r="16.2" fill="#fff" stroke="#222C52" stroke-width="1.3"/>
<circle cx="460" cy="1514.7" r="14.2" fill="#28335B"/>
<path d="M467.0,1517.5L471.2,1523.1M467.0,1517.5L473.9,1516.4M462.9,1521.6L461.9,1528.6M462.9,1521.6L468.6,1525.7M457.2,1521.7L451.6,1525.9M457.2,1521.7L458.3,1528.6M453.1,1517.6L446.1,1516.6M453.1,1517.6L449.0,1523.3M453.0,1511.9L448.8,1506.3M453.0,1511.9L446.1,1513.0M457.1,1507.8L458.1,1500.8M457.1,1507.8L451.4,1503.7M462.8,1507.7L468.4,1503.5M462.8,1507.7L461.7,1500.8M466.9,1511.8L473.9,1512.8M466.9,1511.8L471.0,1506.1" stroke="#fff" stroke-width="0.85" fill="none"/>
<path d="M460.0,1514.7L472.6,1519.8M460.0,1514.7L465.3,1527.2M460.0,1514.7L454.9,1527.3M460.0,1514.7L447.5,1520.0M460.0,1514.7L447.4,1509.6M460.0,1514.7L454.7,1502.2M460.0,1514.7L465.1,1502.1M460.0,1514.7L472.5,1509.4" stroke="#fff" stroke-width="1.8" fill="none"/>
<circle cx="460" cy="1514.7" r="4.6" fill="#fff"/>
<circle cx="633.3" cy="1514.7" r="23" fill="#7F93B4" stroke="#222C52" stroke-width="1.7"/>
<circle cx="633.3" cy="1514.7" r="16.2" fill="#fff" stroke="#222C52" stroke-width="1.3"/>
<circle cx="633.3" cy="1514.7" r="14.2" fill="#28335B"/>
<path d="M640.3,1517.5L644.5,1523.1M640.3,1517.5L647.2,1516.4M636.2,1521.6L635.2,1528.6M636.2,1521.6L641.9,1525.7M630.5,1521.7L624.9,1525.9M630.5,1521.7L631.6,1528.6M626.4,1517.6L619.4,1516.6M626.4,1517.6L622.3,1523.3M626.3,1511.9L622.1,1506.3M626.3,1511.9L619.4,1513.0M630.4,1507.8L631.4,1500.8M630.4,1507.8L624.7,1503.7M636.1,1507.7L641.7,1503.5M636.1,1507.7L635.0,1500.8M640.2,1511.8L647.2,1512.8M640.2,1511.8L644.3,1506.1" stroke="#fff" stroke-width="0.85" fill="none"/>
<path d="M633.3,1514.7L645.9,1519.8M633.3,1514.7L638.6,1527.2M633.3,1514.7L628.2,1527.3M633.3,1514.7L620.8,1520.0M633.3,1514.7L620.7,1509.6M633.3,1514.7L628.0,1502.2M633.3,1514.7L638.4,1502.1M633.3,1514.7L645.8,1509.4" stroke="#fff" stroke-width="1.8" fill="none"/>
<circle cx="633.3" cy="1514.7" r="4.6" fill="#fff"/>
</g>
<circle cx="446" cy="1405" r="28.7" fill="#E8242B"/>
<text x="446" y="1417" font-size="32" text-anchor="middle" fill="#fff" stroke="#fff" stroke-width="0.8">6</text>
<path d="M779.5,1298V1732" stroke="#8DAFD2" stroke-width="1.8"/>
<text x="565" y="1361.7" font-size="25.5" fill="#231F20" textLength="127.5" lengthAdjust="spacingAndGlyphs">El auto está</text>
<text class="b" x="565.2" y="1393.7" font-size="25.5" fill="#DD5F6E" textLength="129" lengthAdjust="spacingAndGlyphs">acelerando</text>
<text x="1029" y="1361.5" font-size="25.5" fill="#231F20" textLength="128" lengthAdjust="spacingAndGlyphs">El auto está</text>
<text class="b" x="1029" y="1393.5" font-size="25.5" fill="#4FA3DC" textLength="169.5" lengthAdjust="spacingAndGlyphs">desacelerando</text>
<text class="b" x="566" y="1624.6" font-size="25.5" fill="#111" textLength="112" lengthAdjust="spacingAndGlyphs">velocidad</text>
<text class="b" x="991.6" y="1624.6" font-size="25.5" fill="#111" textLength="113.7" lengthAdjust="spacingAndGlyphs">velocidad</text>
<text class="b" x="438.5" y="1712.8" font-size="25.5" fill="#111" textLength="132.5" lengthAdjust="spacingAndGlyphs">aceleración</text>
<text class="b" x="887.6" y="1712.8" font-size="25.5" fill="#111" textLength="131.6" lengthAdjust="spacingAndGlyphs">aceleración</text>
<path d="M542,1571.5L692.5,1577.0L692.5,1564.5L729.5,1585L692.5,1605.5L692.5,1593.0L542,1598.5Z" fill="#8FA6C9" stroke="#252F58" stroke-width="1.9" stroke-linejoin="round"/>
<path d="M971,1571.5L1122,1577.0L1122,1564.5L1159,1585L1122,1605.5L1122,1593.0L971,1598.5Z" fill="#8FA6C9" stroke="#252F58" stroke-width="1.9" stroke-linejoin="round"/>
<path d="M371,1658.5L616,1664.0L616,1651.5L653,1672L616,1692.5L616,1680.0L371,1685.5Z" fill="#DE5C6D" stroke="#252F58" stroke-width="1.9" stroke-linejoin="round"/>
<path d="M1082.5,1658.5L837.5,1664.0L837.5,1651.5L800.5,1672L837.5,1692.5L837.5,1680.0L1082.5,1685.5Z" fill="#4CA5E1" stroke="#252F58" stroke-width="1.9" stroke-linejoin="round"/>
<rect x="1219" y="1703" width="131" height="97" fill="#D9BF4E"/>
<text x="1238.8" y="1732.5" font-size="22" fill="#fff" textLength="36.3" lengthAdjust="spacingAndGlyphs">203</text>

<!-- 70_side.svg -->
<g transform="translate(102,1312.8) rotate(-90)" fill="#D4129B" font-size="19.5" stroke="#D4129B" stroke-width="0.45">
<text x="0.3" y="0" textLength="15" lengthAdjust="spacingAndGlyphs" stroke="none">©</text>
<text class="b" x="17.2" y="0" font-size="27" textLength="63.5" lengthAdjust="spacingAndGlyphs" stroke-width="1.2" stroke-linejoin="round">maya</text>
<text x="82" y="-6.3" font-size="10.5" stroke="none">®</text>
<text x="93.2" y="0" textLength="107" lengthAdjust="spacingAndGlyphs">EDUCACIÓN</text>
<text x="207.4" y="0" textLength="7.1" lengthAdjust="spacingAndGlyphs">–</text>
<text x="222.3" y="0" textLength="46.2" lengthAdjust="spacingAndGlyphs">Libro</text>
<text x="273.8" y="0" textLength="72.1" lengthAdjust="spacingAndGlyphs">resuelto</text>
<text x="349.3" y="0" textLength="40.0" lengthAdjust="spacingAndGlyphs">solo</text>
<text x="393.0" y="0" textLength="37.4" lengthAdjust="spacingAndGlyphs">para</text>
<text x="436.0" y="0" textLength="42.1" lengthAdjust="spacingAndGlyphs">fines</text>
<text x="484.1" y="0" textLength="89.2" lengthAdjust="spacingAndGlyphs">didácticos</text>
<text x="578.9" y="0" textLength="7.1" lengthAdjust="spacingAndGlyphs">–</text>
<text x="594.9" y="0" textLength="89.8" lengthAdjust="spacingAndGlyphs">Prohibida</text>
<text x="688.3" y="0" textLength="16.4" lengthAdjust="spacingAndGlyphs">su</text>
<text x="710.0" y="0" textLength="115.2" lengthAdjust="spacingAndGlyphs">reproducción</text>
</g>
<g fill="#8A8A8A" font-size="13">
<text transform="translate(124.3,598.1) rotate(-90)" x="0" y="0" textLength="141.2" lengthAdjust="spacingAndGlyphs">Shutterstock, 1923502109.</text>
<text transform="translate(124.3,1269.6) rotate(-90)" x="0" y="0" textLength="139" lengthAdjust="spacingAndGlyphs">Shutterstock, 2085301813</text>
<text transform="translate(1236.4,1677.5) rotate(-90)" x="0" y="0" textLength="142" lengthAdjust="spacingAndGlyphs">Shutterstock, 2102317552.</text>
</g>

</svg>
</body>
</html>
